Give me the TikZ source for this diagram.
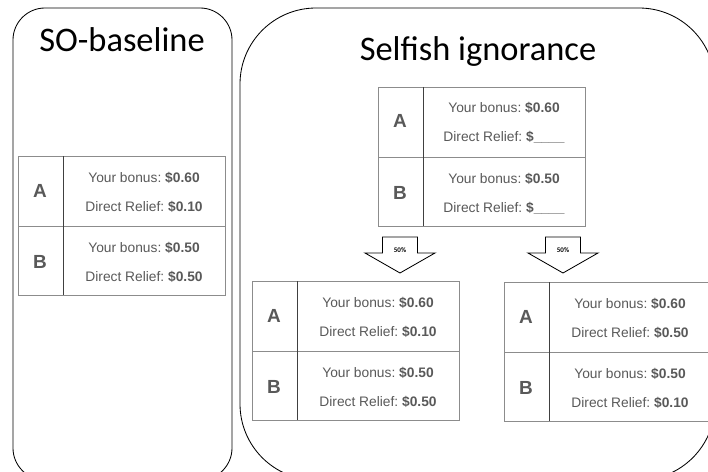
\documentclass[tikz,border=0pt]{standalone}
\usepackage{fontspec}
\setmainfont{Carlito}
\newfontfamily\arialfont{Liberation Sans}
\usepackage{tikz}
\frenchspacing
\definecolor{txtgray}{HTML}{595959}
\definecolor{cellgray}{HTML}{8C8C8C}
\definecolor{divgray}{HTML}{404040}
\tikzset{
  panel/.style={draw=black,line width=0.6pt},
  cellline/.style={draw=cellgray,line width=0.7pt},
  divline/.style={draw=divgray,line width=0.7pt},
  letter/.style={anchor=base,text=txtgray,font=\arialfont\bfseries\fontsize{13.5}{14}\selectfont},
  info/.style={anchor=base,text=txtgray,font=\arialfont\fontsize{9.8}{10}\selectfont},
  paneltitle/.style={anchor=base,font=\fontsize{24.5}{26}\selectfont},
  halfarrow/.style={draw=black,fill=white,line width=0.6pt},
  pct/.style={font=\bfseries\fontsize{5}{5}\selectfont}
}
% table: name, left x, top y, relief A, relief B
\newcommand{\choicetable}[5]{%
  \draw[cellline](#2,#3)rectangle++(207,139);
  \draw[cellline](#2,#3+70)--++(207,0);
  \draw[divline](#2+45,#3)--++(0,139);
  \node[letter](#1A)at(#2+22,#3+41){A};
  \node[letter](#1B)at(#2+22,#3+112){B};
  \node[info](#1Abonus)at(#2+126,#3+26){Your bonus: \textbf{\$0.60}};
  \node[info](#1Arelief)at(#2+126,#3+55){Direct Relief: \textbf{#4}};
  \node[info](#1Bbonus)at(#2+126,#3+96){Your bonus: \textbf{\$0.50}};
  \node[info](#1Brelief)at(#2+126,#3+125){Direct Relief: \textbf{#5}};
}

\begin{document}
\begin{tikzpicture}[x=0.025cm,y=-0.025cm]
\useasboundingbox(0,0)rectangle(708,472);
%panels
\draw[panel,rounded corners=0.8cm](13,8)rectangle(232,480);
\draw[panel,rounded corners=1.9cm](240,8)rectangle(715,480);
\node[paneltitle](sotitle)at(122,52){SO-baseline};
\node[paneltitle](sititle)at(478,61){Selfish ignorance};
%tables
\choicetable{so}{18}{156}{\$0.10}{\$0.50}
\choicetable{top}{378}{87}{\$\_\_\_\_}{\$\_\_\_\_}
\choicetable{left}{252}{281}{\$0.10}{\$0.50}
\choicetable{right}{504}{282}{\$0.50}{\$0.10}
%50% arrows
\foreach \ax in {400,563}{
  \draw[halfarrow](\ax-17.5,237)--(\ax+17.5,237)--(\ax+17.5,253)--(\ax+35,253)
    --(\ax,273)--(\ax-35,253)--(\ax-17.5,253)--cycle;
  \node[pct](pct\ax)at(\ax,250){50\%};
}
\end{tikzpicture}
\end{document}
